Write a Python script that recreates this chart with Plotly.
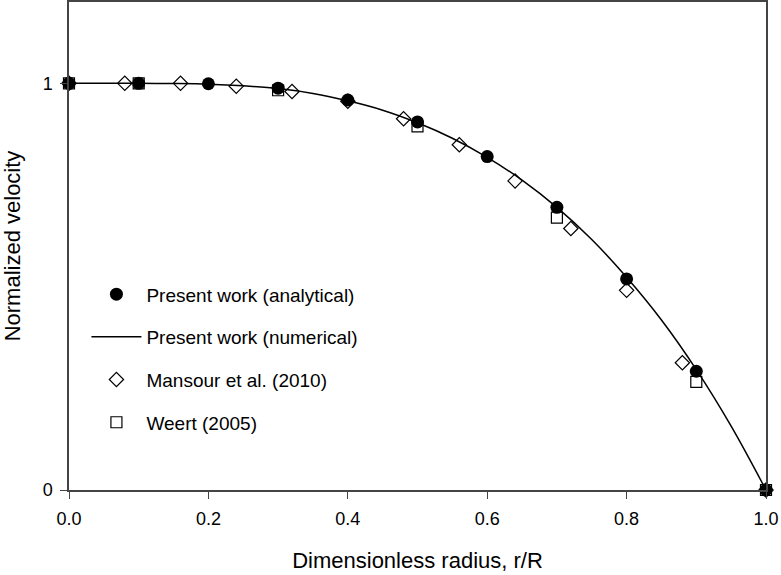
import plotly.graph_objects as go

# Present work (analytical) - filled circles
ana_x = [0.0, 0.1, 0.2, 0.3, 0.4, 0.5, 0.6, 0.7, 0.8, 0.9, 1.0]
ana_y = [1.0, 1.0, 0.999, 0.988, 0.959, 0.905, 0.820, 0.695, 0.519, 0.292, 0.0]

# Present work (numerical) - solid line
num_x = [0.0, 0.05, 0.1, 0.15, 0.2, 0.25, 0.3, 0.35, 0.4, 0.45, 0.5,
         0.55, 0.6, 0.65, 0.7, 0.75, 0.8, 0.85, 0.9, 0.95, 1.0]
num_y = [1.0, 1.0, 1.0, 0.9995, 0.998, 0.994, 0.987, 0.975, 0.957, 0.934, 0.903,
         0.865, 0.818, 0.762, 0.695, 0.616, 0.523, 0.418, 0.296, 0.157, 0.0]

# Mansour et al. (2010) - open diamonds
man_x = [0.0, 0.08, 0.16, 0.24, 0.32, 0.40, 0.48, 0.56, 0.64, 0.72, 0.80, 0.88, 1.0]
man_y = [1.0, 1.0, 1.0, 0.993, 0.980, 0.956, 0.913, 0.849, 0.760, 0.643, 0.491, 0.313, 0.0]

# Weert (2005) - open squares
wee_x = [0.0, 0.1, 0.3, 0.5, 0.7, 0.9, 1.0]
wee_y = [1.0, 1.0, 0.983, 0.894, 0.670, 0.266, 0.0]

x_ticks = [0.0, 0.2, 0.4, 0.6, 0.8, 1.0]
y_ticks = [0, 1]

FONT = "Liberation Sans, Arial, sans-serif"

fig = go.Figure()
fig.add_trace(go.Scatter(
    x=num_x, y=num_y, mode="lines", name="Present work (numerical)",
    line=dict(color="black", width=1.5, shape="spline"),
    legendgroup="b", legendrank=2, cliponaxis=False))
fig.add_trace(go.Scatter(
    x=man_x, y=man_y, mode="markers", name="Mansour et al. (2010)",
    marker=dict(symbol="diamond-open", size=11, color="black", line=dict(width=1.2)),
    legendgroup="c", legendrank=3, cliponaxis=False))
fig.add_trace(go.Scatter(
    x=wee_x, y=wee_y, mode="markers", name="Weert (2005)",
    marker=dict(symbol="square-open", size=11, color="black", line=dict(width=1.2)),
    legendgroup="d", legendrank=4, cliponaxis=False))
fig.add_trace(go.Scatter(
    x=ana_x, y=ana_y, mode="markers", name="Present work (analytical)",
    marker=dict(symbol="circle", size=13, color="black"),
    legendgroup="a", legendrank=1, cliponaxis=False))

fig.update_layout(
    width=781, height=575,
    margin=dict(l=69, r=15, t=2, b=85, autoexpand=False),
    paper_bgcolor="white", plot_bgcolor="white",
    font=dict(family=FONT, color="black"),
    showlegend=True,
    legend=dict(x=0.025, y=0.44, xanchor="left", yanchor="top",
                font=dict(size=19, family=FONT), bgcolor="rgba(0,0,0,0)",
                tracegroupgap=15, itemwidth=50, traceorder="grouped"),
    xaxis=dict(range=[0, 1], tickvals=x_ticks, ticktext=[f"{v:.1f}" for v in x_ticks],
               ticks="outside", ticklen=7, tickcolor="#444", tickwidth=1.2,
               showline=True, linecolor="#444", linewidth=1.5, mirror=True,
               showgrid=False, zeroline=False, ticklabelstandoff=5,
               tickfont=dict(size=18, family=FONT),
               title=dict(text="Dimensionless radius, r/R", font=dict(size=22, family=FONT), standoff=24)),
    yaxis=dict(range=[0, 1.2], tickvals=y_ticks, ticktext=["0", "1"],
               ticks="outside", ticklen=7, tickcolor="#444", tickwidth=1.2,
               showline=True, linecolor="#444", linewidth=1.5, mirror=True,
               showgrid=False, zeroline=False, ticklabelstandoff=4,
               tickfont=dict(size=18, family=FONT),
               title=dict(text="Normalized velocity", font=dict(size=22, family=FONT), standoff=22)),
)

fig.write_html("out.html", config={"displayModeBar": False},
               post_script="document.body.style.margin='0';")
